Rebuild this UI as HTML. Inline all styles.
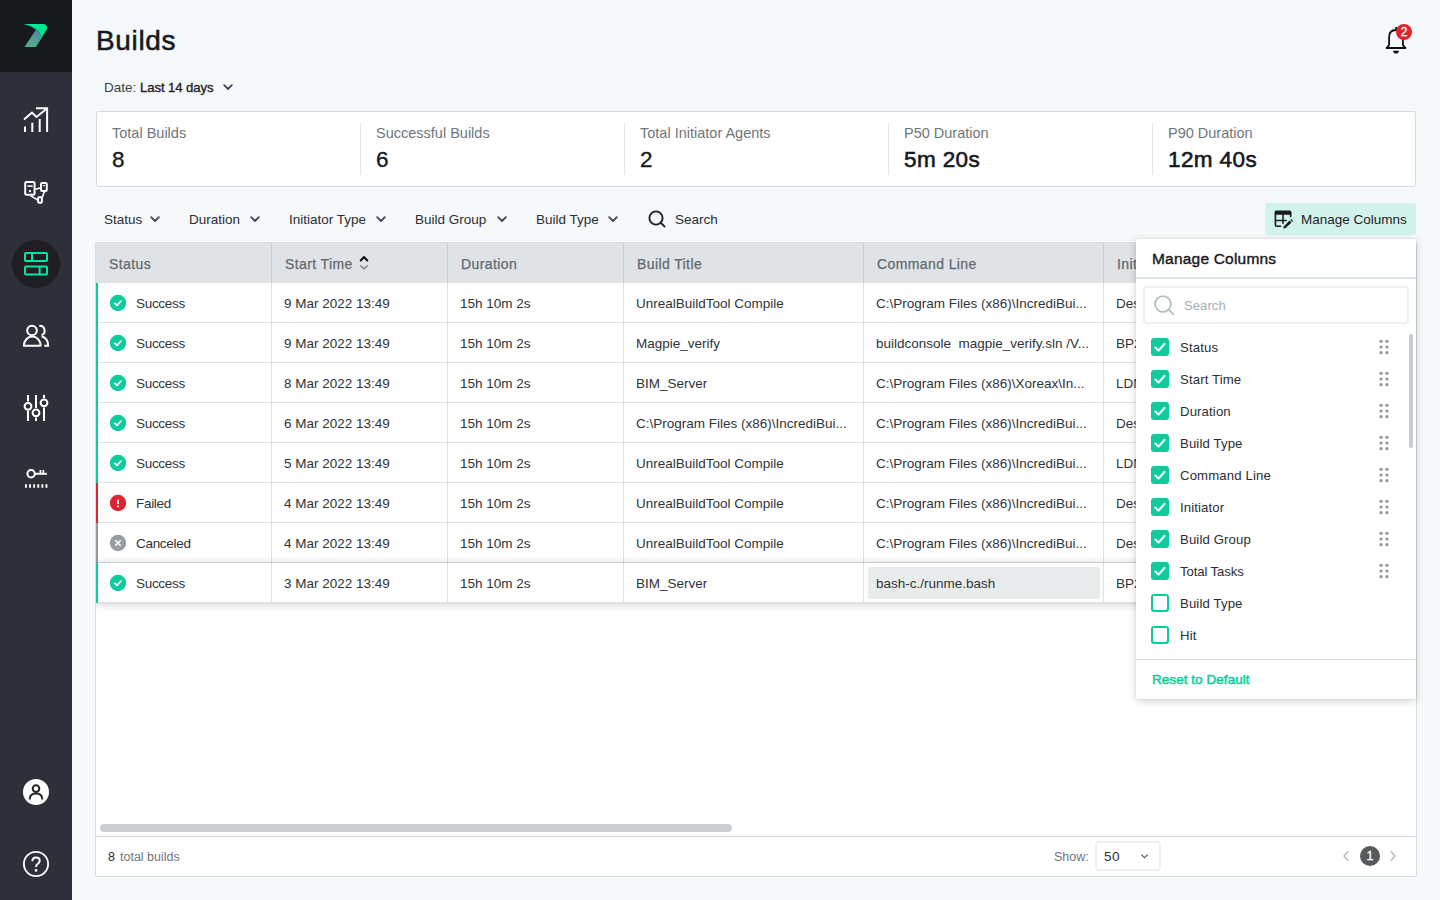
<!DOCTYPE html>
<html><head><meta charset="utf-8"><title>Builds</title>
<style>
*{box-sizing:border-box;margin:0;padding:0}
html,body{width:1440px;height:900px;overflow:hidden}
body{font-family:"Liberation Sans",sans-serif;background:#f5f9fa;color:#1e2126;position:relative;font-size:13px}
.abs{position:absolute}
#side{position:absolute;left:0;top:0;width:72px;height:900px;background:#2d3039}
#side .logo{position:absolute;left:0;top:0;width:72px;height:72px;background:#18191d}
#side svg{position:absolute}
h1{position:absolute;left:96px;top:23px;font-size:28px;font-weight:400;line-height:36px;color:#17191e;letter-spacing:0.65px;-webkit-text-stroke:0.55px #17191e}
.t{position:absolute;white-space:nowrap;line-height:16px}
#stats{position:absolute;left:96px;top:111px;width:1320px;height:76px;background:#fff;border:1px solid #d5dde2;border-radius:2px}
#stats .c{position:absolute;top:0;height:74px;width:264px}
#stats .c .l{position:absolute;left:15px;top:12px;font-size:14.5px;color:#70767b;line-height:18px;white-space:nowrap}
#stats .c .v{position:absolute;left:15px;top:35px;font-size:22.5px;color:#17191e;line-height:26px;white-space:nowrap;letter-spacing:0.4px;-webkit-text-stroke:0.35px #17191e}
#stats .d{position:absolute;top:11px;width:1px;height:52px;background:#dfe5e8}
.f{position:absolute;top:212px;font-size:13.5px;line-height:16px;color:#2b2e33;white-space:nowrap}
#tbl{position:absolute;left:95px;top:242px;width:1322px;height:635px;background:#fff;border:1px solid #d5dde2;border-radius:2px;overflow:hidden}
#th{position:absolute;left:0;top:0;width:1320px;height:40px;background:#dfe3e6}
.hc{position:absolute;top:0;height:40px;line-height:42px;letter-spacing:0.4px;padding-left:13px;font-size:14px;color:#626a6e;border-right:1px solid #c9d0d4;white-space:nowrap;font-weight:400;-webkit-text-stroke:0.25px #626a6e}
.row{position:absolute;left:0;width:1320px;height:40px;border-bottom:1px solid #dbe3e6;background:#fff}
.row .bar{position:absolute;left:0;top:0;width:2px;height:40px;background:#0ccb9d}
.cell{position:absolute;top:0;height:39px;line-height:41.5px;padding-left:12px;font-size:13.5px;color:#303338;border-right:1px solid #dbe3e6;white-space:nowrap;overflow:hidden}

.row.hov{box-shadow:0 1px 9px rgba(0,0,0,.2),0 0 1px rgba(0,0,0,.12);z-index:2}
.hl{position:absolute;left:4px;top:4px;right:3px;bottom:3px;background:#e9ecec;border-radius:2px}
.hs{position:absolute;left:4px;top:581px;width:632px;height:8px;border-radius:4px;background:#cbcfd1}
#tf{position:absolute;left:0;top:593px;width:1320px;height:40px;border-top:1px solid #d5dde2;background:#fff}
.sel{position:absolute;left:999px;top:4px;width:66px;height:30px;border:2px solid #ecf0f2;border-radius:4px;background:#fff}
.pg{position:absolute;left:1264px;top:9px;width:20px;height:20px;border-radius:10px;background:#555b5d;color:#fff;font-size:12.5px;line-height:20px;text-align:center;-webkit-text-stroke:0.3px #fff}

#mcb{position:absolute;left:1265px;top:203px;width:151px;height:32px;background:#d1f3ec;border-radius:2px}
#mcp{position:absolute;left:1136px;top:239px;width:280px;height:460px;background:#fff;border-radius:2px;box-shadow:0 2px 8px rgba(0,0,0,.18),0 0 2px rgba(0,0,0,.1);z-index:5}
#mcp .hd{position:absolute;left:0;top:38px;width:280px;height:2px;background:#dbe3e6}
#mcp .sb{position:absolute;left:7px;top:47px;width:266px;height:38px;border:2px solid #ebf0f1;border-radius:4px}
#mcp .scr{position:absolute;left:273px;top:95px;width:4px;height:114px;border-radius:2px;background:#c9cdcf}
.cb{position:absolute;left:15px;width:18px;height:18px;border-radius:3px;border:2px solid #0ccb9d;background:#fff}
.cb.on{background:#0ccb9d}
.cb svg{position:absolute;left:-2px;top:-2px}
#mcp .ft{position:absolute;left:0;top:420px;width:280px;height:1px;background:#dbe3e6}
</style></head><body>
<div id="side"><div class="logo"></div>
<svg width="72" height="900" viewBox="0 0 72 900" style="left:0;top:0" fill="none" stroke="#fff" stroke-width="2">
<defs><linearGradient id="lg" x1="0" y1="0" x2="0" y2="1"><stop offset="0" stop-color="#5c7fa6"/><stop offset="1" stop-color="#4bb28c"/></linearGradient></defs>
<!-- logo -->
<path d="M23.5 24 H43.5 Q47.6 24.3 47 29 L36 47 L40 38 Q42 33 36 29.5 Q30.5 25.3 23.5 24 Z" fill="#00e591" stroke="none"/>
<path d="M36 29.5 Q42 33 40 38 L36 47 H24.5 Z" fill="url(#lg)" stroke="none"/>
<!-- chart -->
<path d="M25 126.5V132 M32.3 122.7V132 M39.7 119V132 M47.1 108V132 M36 108.2H48.1 M24 119.5L32 112.5L36.5 117L47 108.5"/>
<!-- network -->
<rect x="25.2" y="182.1" width="9.4" height="12.7" rx="1.4"/>
<path d="M27.4 186.1H32.6" stroke-width="1.6"/><rect x="29" y="190.1" width="2" height="2" fill="#fff" stroke="none"/>
<rect x="41" y="183" width="5.8" height="8" rx="1.2"/><rect x="42.9" y="185.1" width="2" height="1.1" fill="#fff" stroke="none"/>
<rect x="38.1" y="197.2" width="3.8" height="5.6" rx="1"/>
<path d="M35.4 189.2L40.2 187.9 M30.4 195.6L37.6 199.9 M44.4 191.8L42.2 197.4" stroke-width="1.6"/>
<!-- builds active -->
<circle cx="36" cy="264" r="24" fill="#1f1f23" stroke="none"/>
<g stroke="#00e6a4"><rect x="25" y="253" width="22" height="8" rx="1"/><path d="M32 253V261"/><rect x="25" y="266.6" width="22" height="8" rx="1"/><path d="M39.6 266.6V274.6"/></g>
<!-- users -->
<circle cx="32" cy="330.5" r="4.8"/>
<path d="M23.9 345.7 A8.35 9.1 0 0 1 40.6 345.7 Z" stroke-linejoin="round"/>
<path d="M39.3 325.7 A4.9 4.9 0 0 1 41.6 335.1"/>
<path d="M41.6 336.3 Q48.1 338.4 48.1 345.7 H44.3"/>
<!-- sliders -->
<path d="M28 395V401.5 M28 411V421 M36 395V408 M36 417.5V421 M44 395V398 M44 407.5V421"/>
<circle cx="28" cy="406.3" r="3.4"/><circle cx="36" cy="412.8" r="3.4"/><circle cx="44" cy="402.8" r="3.4"/>
<!-- key -->
<circle cx="31.1" cy="473.8" r="3.7"/>
<path d="M35 473.8H46.9" stroke-width="2"/><path d="M40.4 473.6V470.1 M43.3 473.6V470.1" stroke-width="1.7"/>
<path d="M25 486H47.5" stroke-width="3.6" stroke-dasharray="1.9 2.2"/>
<!-- avatar -->
<circle cx="36" cy="792" r="13" fill="#fff" stroke="none"/>
<g stroke="#24262c" stroke-width="2"><circle cx="36" cy="788.6" r="3.3"/><path d="M29.7 799.4 Q29.7 793.6 36 793.6 Q42.3 793.6 42.3 799.4"/></g>
<!-- help -->
<circle cx="36" cy="864" r="12.1" stroke-width="1.8"/>
<path d="M32.4 861.2 Q32.4 857.6 36 857.6 Q39.7 857.6 39.7 860.8 Q39.7 862.8 37.6 864 Q36 865 36 867" stroke-width="2"/>
<circle cx="36" cy="870.4" r="1.3" fill="#fff" stroke="none"/>
</svg></div>
<h1>Builds</h1>
<svg class="abs" style="left:1380px;top:20px" width="40" height="40" viewBox="0 0 40 40" fill="none" stroke="#0f1014" stroke-width="1.8">
<path d="M6.8 28L9.1 24.9V16.9Q9.1 10 16 10Q22.9 10 22.9 16.9V24.9L25.2 28" stroke-linejoin="round"/><path d="M5.8 28H26.2" stroke-width="2"/><path d="M16.2 10V7" stroke-width="2"/>
<path d="M13 30.8H19Q18.6 33.6 16 33.6Q13.4 33.6 13 30.8Z" fill="#0f1014" stroke="none"/>
<circle cx="24" cy="12" r="8" fill="#e0242f" stroke="none"/></svg>
<div class="t" style="left:1400px;top:23.5px;width:8px;text-align:center;color:#fff;font-size:12px;line-height:16px;-webkit-text-stroke:0.3px #fff">2</div>
<div class="t" style="left:104px;top:80px;font-size:13.5px;color:#3b3f45">Date:</div>
<div class="t" style="left:140px;top:80px;font-size:13.2px;color:#1e2126;letter-spacing:-0.1px;-webkit-text-stroke:0.35px #1e2126">Last 14 days</div>
<svg class="abs" style="left:223px;top:84px" width="10" height="7" viewBox="0 0 10 7" fill="none" stroke="#434a5c" stroke-width="1.9" stroke-linecap="round" stroke-linejoin="round"><path d="M1.2 1.2L5 5L8.8 1.2"/></svg>
<div id="stats"><div class="c" style="left:0px"><div class="l">Total Builds</div><div class="v">8</div></div><div class="c" style="left:264px"><div class="l">Successful Builds</div><div class="v">6</div></div><div class="d" style="left:263px"></div><div class="c" style="left:528px"><div class="l">Total Initiator Agents</div><div class="v">2</div></div><div class="d" style="left:527px"></div><div class="c" style="left:792px"><div class="l">P50 Duration</div><div class="v" style="-webkit-text-stroke-width:0.6px">5m 20s</div></div><div class="d" style="left:791px"></div><div class="c" style="left:1056px"><div class="l">P90 Duration</div><div class="v" style="-webkit-text-stroke-width:0.6px">12m 40s</div></div><div class="d" style="left:1055px"></div></div>
<div class="f" style="left:104px">Status</div>
<svg class="abs" style="left:150px;top:216px" width="10" height="7" viewBox="0 0 10 7" fill="none" stroke="#434a5c" stroke-width="1.9" stroke-linecap="round" stroke-linejoin="round"><path d="M1.2 1.2L5 5L8.8 1.2"/></svg>
<div class="f" style="left:189px">Duration</div>
<svg class="abs" style="left:250px;top:216px" width="10" height="7" viewBox="0 0 10 7" fill="none" stroke="#434a5c" stroke-width="1.9" stroke-linecap="round" stroke-linejoin="round"><path d="M1.2 1.2L5 5L8.8 1.2"/></svg>
<div class="f" style="left:289px">Initiator Type</div>
<svg class="abs" style="left:376px;top:216px" width="10" height="7" viewBox="0 0 10 7" fill="none" stroke="#434a5c" stroke-width="1.9" stroke-linecap="round" stroke-linejoin="round"><path d="M1.2 1.2L5 5L8.8 1.2"/></svg>
<div class="f" style="left:415px">Build Group</div>
<svg class="abs" style="left:497px;top:216px" width="10" height="7" viewBox="0 0 10 7" fill="none" stroke="#434a5c" stroke-width="1.9" stroke-linecap="round" stroke-linejoin="round"><path d="M1.2 1.2L5 5L8.8 1.2"/></svg>
<div class="f" style="left:536px">Build Type</div>
<svg class="abs" style="left:608px;top:216px" width="10" height="7" viewBox="0 0 10 7" fill="none" stroke="#434a5c" stroke-width="1.9" stroke-linecap="round" stroke-linejoin="round"><path d="M1.2 1.2L5 5L8.8 1.2"/></svg>
<svg class="abs" style="left:647px;top:209px" width="20" height="20" viewBox="0 0 20 20" fill="none" stroke="#1e2126" stroke-width="1.9" stroke-linecap="round"><circle cx="9" cy="9" r="6.6"/><path d="M14 14L17.6 17.6"/></svg>
<div class="f" style="left:675px">Search</div>
<div id="tbl"><div id="th"><div class="hc" style="left:0px;width:176px">Status</div><div class="hc" style="left:176px;width:176px">Start Time<svg class="abs" style="left:86px;top:11px" width="12" height="18" viewBox="0 0 12 18" fill="none" stroke-linecap="round" stroke-linejoin="round" stroke-width="2.1"><path d="M2.7 6.4L6 3.1L9.3 6.4" stroke="#111216"/><path d="M2.7 11.9L6 14.9L9.3 11.9" stroke="#889795" stroke-width="1.9"/></svg></div><div class="hc" style="left:352px;width:176px">Duration</div><div class="hc" style="left:528px;width:240px">Build Title</div><div class="hc" style="left:768px;width:240px">Command Line</div><div class="hc" style="left:1008px;width:240px">Initiator</div></div><div class="row" style="top:40px"><div class="bar" style="background:#0ccb9d"></div><div class="cell" style="left:0px;width:176px;padding-left:40px;letter-spacing:-0.3px"><svg class="abs" style="left:13px;top:11px" width="18" height="18" viewBox="0 0 18 18"><circle cx="9" cy="9" r="8.2" fill="#0ccb9d"/><path d="M5.9 9.3L8 11.3L12.1 7" fill="none" stroke="#fff" stroke-width="1.7" stroke-linecap="round" stroke-linejoin="round"/></svg>Success</div><div class="cell" style="left:176px;width:176px">9 Mar 2022 13:49</div><div class="cell" style="left:352px;width:176px">15h 10m 2s</div><div class="cell" style="left:528px;width:240px">UnrealBuildTool Compile</div><div class="cell" style="left:768px;width:240px">C:\Program Files (x86)\IncrediBui...</div><div class="cell" style="left:1008px;width:240px">Desktop</div></div><div class="row" style="top:80px"><div class="bar" style="background:#0ccb9d"></div><div class="cell" style="left:0px;width:176px;padding-left:40px;letter-spacing:-0.3px"><svg class="abs" style="left:13px;top:11px" width="18" height="18" viewBox="0 0 18 18"><circle cx="9" cy="9" r="8.2" fill="#0ccb9d"/><path d="M5.9 9.3L8 11.3L12.1 7" fill="none" stroke="#fff" stroke-width="1.7" stroke-linecap="round" stroke-linejoin="round"/></svg>Success</div><div class="cell" style="left:176px;width:176px">9 Mar 2022 13:49</div><div class="cell" style="left:352px;width:176px">15h 10m 2s</div><div class="cell" style="left:528px;width:240px">Magpie_verify</div><div class="cell" style="left:768px;width:240px">buildconsole&nbsp; magpie_verify.sln /V...</div><div class="cell" style="left:1008px;width:240px">BP2</div></div><div class="row" style="top:120px"><div class="bar" style="background:#0ccb9d"></div><div class="cell" style="left:0px;width:176px;padding-left:40px;letter-spacing:-0.3px"><svg class="abs" style="left:13px;top:11px" width="18" height="18" viewBox="0 0 18 18"><circle cx="9" cy="9" r="8.2" fill="#0ccb9d"/><path d="M5.9 9.3L8 11.3L12.1 7" fill="none" stroke="#fff" stroke-width="1.7" stroke-linecap="round" stroke-linejoin="round"/></svg>Success</div><div class="cell" style="left:176px;width:176px">8 Mar 2022 13:49</div><div class="cell" style="left:352px;width:176px">15h 10m 2s</div><div class="cell" style="left:528px;width:240px">BIM_Server</div><div class="cell" style="left:768px;width:240px">C:\Program Files (x86)\Xoreax\In...</div><div class="cell" style="left:1008px;width:240px">LDN</div></div><div class="row" style="top:160px"><div class="bar" style="background:#0ccb9d"></div><div class="cell" style="left:0px;width:176px;padding-left:40px;letter-spacing:-0.3px"><svg class="abs" style="left:13px;top:11px" width="18" height="18" viewBox="0 0 18 18"><circle cx="9" cy="9" r="8.2" fill="#0ccb9d"/><path d="M5.9 9.3L8 11.3L12.1 7" fill="none" stroke="#fff" stroke-width="1.7" stroke-linecap="round" stroke-linejoin="round"/></svg>Success</div><div class="cell" style="left:176px;width:176px">6 Mar 2022 13:49</div><div class="cell" style="left:352px;width:176px">15h 10m 2s</div><div class="cell" style="left:528px;width:240px">C:\Program Files (x86)\IncrediBui...</div><div class="cell" style="left:768px;width:240px">C:\Program Files (x86)\IncrediBui...</div><div class="cell" style="left:1008px;width:240px">Desktop</div></div><div class="row" style="top:200px"><div class="bar" style="background:#0ccb9d"></div><div class="cell" style="left:0px;width:176px;padding-left:40px;letter-spacing:-0.3px"><svg class="abs" style="left:13px;top:11px" width="18" height="18" viewBox="0 0 18 18"><circle cx="9" cy="9" r="8.2" fill="#0ccb9d"/><path d="M5.9 9.3L8 11.3L12.1 7" fill="none" stroke="#fff" stroke-width="1.7" stroke-linecap="round" stroke-linejoin="round"/></svg>Success</div><div class="cell" style="left:176px;width:176px">5 Mar 2022 13:49</div><div class="cell" style="left:352px;width:176px">15h 10m 2s</div><div class="cell" style="left:528px;width:240px">UnrealBuildTool Compile</div><div class="cell" style="left:768px;width:240px">C:\Program Files (x86)\IncrediBui...</div><div class="cell" style="left:1008px;width:240px">LDN</div></div><div class="row" style="top:240px"><div class="bar" style="background:#e0242f"></div><div class="cell" style="left:0px;width:176px;padding-left:40px;letter-spacing:-0.3px"><svg class="abs" style="left:13px;top:11px" width="18" height="18" viewBox="0 0 18 18"><circle cx="9" cy="9" r="8.2" fill="#e0242f"/><path d="M9 5.8V10" stroke="#fff" stroke-width="1.9"/><rect x="8.05" y="11.5" width="1.9" height="1.7" fill="#fff"/></svg>Failed</div><div class="cell" style="left:176px;width:176px">4 Mar 2022 13:49</div><div class="cell" style="left:352px;width:176px">15h 10m 2s</div><div class="cell" style="left:528px;width:240px">UnrealBuildTool Compile</div><div class="cell" style="left:768px;width:240px">C:\Program Files (x86)\IncrediBui...</div><div class="cell" style="left:1008px;width:240px">Desktop</div></div><div class="row" style="top:280px"><div class="bar" style="background:#939c9f"></div><div class="cell" style="left:0px;width:176px;padding-left:40px;letter-spacing:-0.3px"><svg class="abs" style="left:13px;top:11px" width="18" height="18" viewBox="0 0 18 18"><circle cx="9" cy="9" r="8.2" fill="#959ea1"/><path d="M6.3 6.3L11.7 11.7M11.7 6.3L6.3 11.7" stroke="#fff" stroke-width="1.6"/></svg>Canceled</div><div class="cell" style="left:176px;width:176px">4 Mar 2022 13:49</div><div class="cell" style="left:352px;width:176px">15h 10m 2s</div><div class="cell" style="left:528px;width:240px">UnrealBuildTool Compile</div><div class="cell" style="left:768px;width:240px">C:\Program Files (x86)\IncrediBui...</div><div class="cell" style="left:1008px;width:240px">Desktop</div></div><div class="row hov" style="top:320px"><div class="bar" style="background:#0ccb9d"></div><div class="cell" style="left:0px;width:176px;padding-left:40px;letter-spacing:-0.3px"><svg class="abs" style="left:13px;top:11px" width="18" height="18" viewBox="0 0 18 18"><circle cx="9" cy="9" r="8.2" fill="#0ccb9d"/><path d="M5.9 9.3L8 11.3L12.1 7" fill="none" stroke="#fff" stroke-width="1.7" stroke-linecap="round" stroke-linejoin="round"/></svg>Success</div><div class="cell" style="left:176px;width:176px">3 Mar 2022 13:49</div><div class="cell" style="left:352px;width:176px">15h 10m 2s</div><div class="cell" style="left:528px;width:240px">BIM_Server</div><div class="cell" style="left:768px;width:240px"><div class="hl"></div><span style="position:relative">bash-c./runme.bash</span></div><div class="cell" style="left:1008px;width:240px">BP2</div></div><div class="hs"></div><div id="tf"><div class="t" style="left:12px;top:11.5px;font-size:12.5px;color:#2b2e33">8</div><div class="t" style="left:24px;top:11.5px;font-size:12.5px;color:#70767b">total builds</div><div class="t" style="left:958px;top:12px;font-size:12.5px;color:#70767b">Show:</div><div class="sel"><div class="t" style="left:7px;top:6px;font-size:13.5px;letter-spacing:0.4px;color:#2b2e33">50</div><svg class="abs" style="left:42.5px;top:9.5px" width="9" height="7" viewBox="0 0 9 7" fill="none" stroke="#565b62" stroke-width="1.15" stroke-linecap="round" stroke-linejoin="round"><path d="M1.7 2L4.5 4.7L7.3 2"/></svg></div><svg class="abs" style="left:1246px;top:13px" width="8" height="12" viewBox="0 0 8 12" fill="none" stroke="#b3babf" stroke-width="1.5" stroke-linecap="round" stroke-linejoin="round"><path d="M5.6 2L2 6L5.6 10"/></svg><div class="pg">1</div><svg class="abs" style="left:1293px;top:13px" width="8" height="12" viewBox="0 0 8 12" fill="none" stroke="#b3babf" stroke-width="1.5" stroke-linecap="round" stroke-linejoin="round"><path d="M2.4 2L6 6L2.4 10"/></svg></div></div>
<div id="mcb"><svg class="abs" style="left:8px;top:6px" width="24" height="22" viewBox="0 0 24 22" fill="none" stroke="#1b1b1d" stroke-width="1.6"><path d="M1.6 5.8V3.2Q1.6 1.6 3.2 1.6H16.8Q18.4 1.6 18.4 3.2V5.8Z" fill="#1b1b1d" stroke="none"/><path d="M2.4 5V15.6Q2.4 17.3 4.1 17.3H7.6" stroke-linecap="round"/><path d="M17.6 5V7.6" stroke-linecap="round"/><path d="M2.4 11.5H13.2 M10 5V14.4" stroke-width="1.5" stroke-linecap="round"/><path d="M10.2 19.6L10.9 17.2L16.6 11.6L18.5 13.5L12.7 19.1Z" fill="#1b1b1d" stroke="none"/><path d="M17.3 10.9L18.3 10L20.2 11.9L19.2 12.8Z" fill="#1b1b1d" stroke="none"/></svg><div class="t" style="left:36px;top:9px;font-size:13.5px;color:#1e2126">Manage Columns</div></div>
<div id="mcp"><div class="t" style="left:16px;top:11px;font-size:15.5px;line-height:18px;letter-spacing:0.2px;color:#17191e;-webkit-text-stroke:0.4px #17191e">Manage Columns</div><div class="hd"></div>
<div class="sb"></div><svg class="abs" style="left:16px;top:54px" width="24" height="24" viewBox="0 0 24 24" fill="none" stroke="#b3bfc3" stroke-width="1.8" stroke-linecap="round"><circle cx="11" cy="11" r="7.9"/><path d="M16.8 16.8L21.4 21.2"/></svg><div class="t" style="left:48px;top:59px;font-size:13px;letter-spacing:0.1px;color:#a5afb3">Search</div>
<div class="scr"></div><div class="cb on" style="top:99px"><svg width="18" height="18" viewBox="0 0 18 18" fill="none" stroke="#fff" stroke-width="2.1" stroke-linecap="round" stroke-linejoin="round"><path d="M4.3 9.4L7.5 12.5L13.6 5.9"/></svg></div><div class="t" style="left:44px;top:100.5px;font-size:13.2px;letter-spacing:0.12px;color:#2b2e33">Status</div><svg class="abs" style="left:243px;top:100px" width="10" height="16" viewBox="0 0 10 16" fill="#8d989e"><circle cx="2.1" cy="2.3" r="1.6"/><circle cx="7.9" cy="2.3" r="1.6"/><circle cx="2.1" cy="8" r="1.6"/><circle cx="7.9" cy="8" r="1.6"/><circle cx="2.1" cy="13.7" r="1.6"/><circle cx="7.9" cy="13.7" r="1.6"/></svg><div class="cb on" style="top:131px"><svg width="18" height="18" viewBox="0 0 18 18" fill="none" stroke="#fff" stroke-width="2.1" stroke-linecap="round" stroke-linejoin="round"><path d="M4.3 9.4L7.5 12.5L13.6 5.9"/></svg></div><div class="t" style="left:44px;top:132.5px;font-size:13.2px;letter-spacing:0.12px;color:#2b2e33">Start Time</div><svg class="abs" style="left:243px;top:132px" width="10" height="16" viewBox="0 0 10 16" fill="#8d989e"><circle cx="2.1" cy="2.3" r="1.6"/><circle cx="7.9" cy="2.3" r="1.6"/><circle cx="2.1" cy="8" r="1.6"/><circle cx="7.9" cy="8" r="1.6"/><circle cx="2.1" cy="13.7" r="1.6"/><circle cx="7.9" cy="13.7" r="1.6"/></svg><div class="cb on" style="top:163px"><svg width="18" height="18" viewBox="0 0 18 18" fill="none" stroke="#fff" stroke-width="2.1" stroke-linecap="round" stroke-linejoin="round"><path d="M4.3 9.4L7.5 12.5L13.6 5.9"/></svg></div><div class="t" style="left:44px;top:164.5px;font-size:13.2px;letter-spacing:0.12px;color:#2b2e33">Duration</div><svg class="abs" style="left:243px;top:164px" width="10" height="16" viewBox="0 0 10 16" fill="#8d989e"><circle cx="2.1" cy="2.3" r="1.6"/><circle cx="7.9" cy="2.3" r="1.6"/><circle cx="2.1" cy="8" r="1.6"/><circle cx="7.9" cy="8" r="1.6"/><circle cx="2.1" cy="13.7" r="1.6"/><circle cx="7.9" cy="13.7" r="1.6"/></svg><div class="cb on" style="top:195px"><svg width="18" height="18" viewBox="0 0 18 18" fill="none" stroke="#fff" stroke-width="2.1" stroke-linecap="round" stroke-linejoin="round"><path d="M4.3 9.4L7.5 12.5L13.6 5.9"/></svg></div><div class="t" style="left:44px;top:196.5px;font-size:13.2px;letter-spacing:0.12px;color:#2b2e33">Build Type</div><svg class="abs" style="left:243px;top:196px" width="10" height="16" viewBox="0 0 10 16" fill="#8d989e"><circle cx="2.1" cy="2.3" r="1.6"/><circle cx="7.9" cy="2.3" r="1.6"/><circle cx="2.1" cy="8" r="1.6"/><circle cx="7.9" cy="8" r="1.6"/><circle cx="2.1" cy="13.7" r="1.6"/><circle cx="7.9" cy="13.7" r="1.6"/></svg><div class="cb on" style="top:227px"><svg width="18" height="18" viewBox="0 0 18 18" fill="none" stroke="#fff" stroke-width="2.1" stroke-linecap="round" stroke-linejoin="round"><path d="M4.3 9.4L7.5 12.5L13.6 5.9"/></svg></div><div class="t" style="left:44px;top:228.5px;font-size:13.2px;letter-spacing:0.12px;color:#2b2e33">Command Line</div><svg class="abs" style="left:243px;top:228px" width="10" height="16" viewBox="0 0 10 16" fill="#8d989e"><circle cx="2.1" cy="2.3" r="1.6"/><circle cx="7.9" cy="2.3" r="1.6"/><circle cx="2.1" cy="8" r="1.6"/><circle cx="7.9" cy="8" r="1.6"/><circle cx="2.1" cy="13.7" r="1.6"/><circle cx="7.9" cy="13.7" r="1.6"/></svg><div class="cb on" style="top:259px"><svg width="18" height="18" viewBox="0 0 18 18" fill="none" stroke="#fff" stroke-width="2.1" stroke-linecap="round" stroke-linejoin="round"><path d="M4.3 9.4L7.5 12.5L13.6 5.9"/></svg></div><div class="t" style="left:44px;top:260.5px;font-size:13.2px;letter-spacing:0.12px;color:#2b2e33">Initiator</div><svg class="abs" style="left:243px;top:260px" width="10" height="16" viewBox="0 0 10 16" fill="#8d989e"><circle cx="2.1" cy="2.3" r="1.6"/><circle cx="7.9" cy="2.3" r="1.6"/><circle cx="2.1" cy="8" r="1.6"/><circle cx="7.9" cy="8" r="1.6"/><circle cx="2.1" cy="13.7" r="1.6"/><circle cx="7.9" cy="13.7" r="1.6"/></svg><div class="cb on" style="top:291px"><svg width="18" height="18" viewBox="0 0 18 18" fill="none" stroke="#fff" stroke-width="2.1" stroke-linecap="round" stroke-linejoin="round"><path d="M4.3 9.4L7.5 12.5L13.6 5.9"/></svg></div><div class="t" style="left:44px;top:292.5px;font-size:13.2px;letter-spacing:0.12px;color:#2b2e33">Build Group</div><svg class="abs" style="left:243px;top:292px" width="10" height="16" viewBox="0 0 10 16" fill="#8d989e"><circle cx="2.1" cy="2.3" r="1.6"/><circle cx="7.9" cy="2.3" r="1.6"/><circle cx="2.1" cy="8" r="1.6"/><circle cx="7.9" cy="8" r="1.6"/><circle cx="2.1" cy="13.7" r="1.6"/><circle cx="7.9" cy="13.7" r="1.6"/></svg><div class="cb on" style="top:323px"><svg width="18" height="18" viewBox="0 0 18 18" fill="none" stroke="#fff" stroke-width="2.1" stroke-linecap="round" stroke-linejoin="round"><path d="M4.3 9.4L7.5 12.5L13.6 5.9"/></svg></div><div class="t" style="left:44px;top:324.5px;font-size:13.2px;letter-spacing:-0.12px;color:#2b2e33">Total Tasks</div><svg class="abs" style="left:243px;top:324px" width="10" height="16" viewBox="0 0 10 16" fill="#8d989e"><circle cx="2.1" cy="2.3" r="1.6"/><circle cx="7.9" cy="2.3" r="1.6"/><circle cx="2.1" cy="8" r="1.6"/><circle cx="7.9" cy="8" r="1.6"/><circle cx="2.1" cy="13.7" r="1.6"/><circle cx="7.9" cy="13.7" r="1.6"/></svg><div class="cb" style="top:355px"></div><div class="t" style="left:44px;top:356.5px;font-size:13.2px;letter-spacing:0.12px;color:#2b2e33">Build Type</div><div class="cb" style="top:387px"></div><div class="t" style="left:44px;top:388.5px;font-size:13.2px;letter-spacing:0.12px;color:#2b2e33">Hit</div><div class="ft"></div><div class="t" style="left:16px;top:433px;font-size:13.5px;color:#0ccb9d;letter-spacing:0.05px;-webkit-text-stroke:0.5px #0ccb9d">Reset to Default</div></div>
</body></html>
